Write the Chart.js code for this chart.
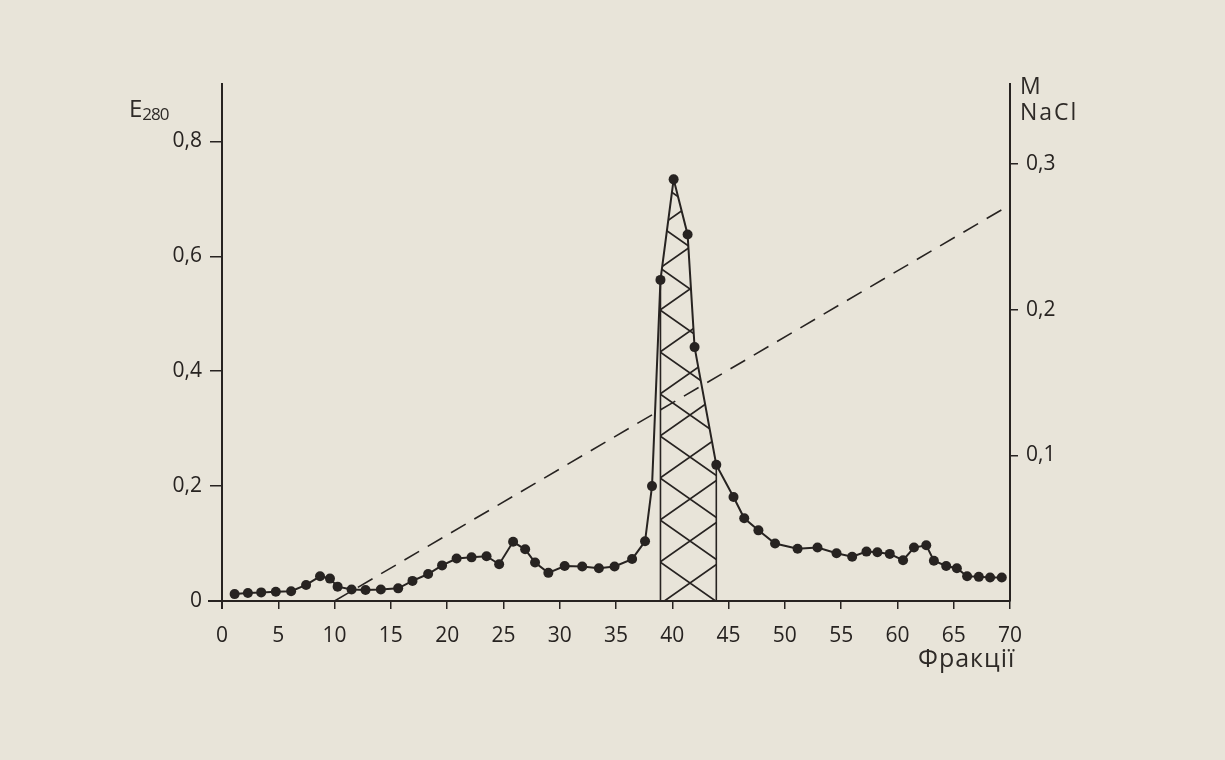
<!DOCTYPE html>
<html>
<head>
<meta charset="utf-8">
<script src="https://cdn.jsdelivr.net/npm/chart.js@4/dist/chart.umd.min.js"></script>
<style>
  html, body { margin: 0; padding: 0; background: #e8e4d9; }
  #wrap { position: relative; width: 1225px; height: 760px; background: #e8e4d9; overflow: hidden; }
  canvas { position: absolute; left: 0; top: 0; }
  .lbl { position: absolute; font-family: "Open Sans", "DejaVu Sans", sans-serif; color: #2e2a27; white-space: nowrap; line-height: 1; }
  .lbl sub { font-size: 17px; vertical-align: -3px; letter-spacing: -1px; }
</style>
</head>
<body>
<div id="wrap">
  <canvas id="c" width="1225" height="760"></canvas>
  <div class="lbl" style="left:129px;top:96px;font-size:24px;">E<sub>280</sub></div>
  <div class="lbl" style="left:1020px;top:72px;font-size:23px;line-height:26px;letter-spacing:2px;">M<br>NaCl</div>
  <div class="lbl" style="left:918px;top:645px;font-size:25px;letter-spacing:1px;">Фракції</div>
</div>
<script>
// ---- data ----
const fractions = [1.12, 2.30, 3.48, 4.78, 6.14, 7.47, 8.71, 9.59, 10.27, 11.51, 12.75, 14.11, 15.65, 16.92, 18.31, 19.55, 20.84, 22.17, 23.50, 24.62, 25.86, 26.93, 27.81, 28.99, 30.44, 32.00, 33.48, 34.87, 36.43, 37.58, 38.20, 38.95, 40.12, 41.36, 41.98, 43.91, 45.44, 46.39, 47.65, 49.13, 51.13, 52.90, 54.59, 55.98, 57.25, 58.22, 59.32, 60.50, 61.47, 62.56, 63.24, 64.33, 65.28, 66.19, 67.23, 68.23, 69.27];
const e280 = [0.012, 0.014, 0.015, 0.016, 0.017, 0.028, 0.043, 0.039, 0.025, 0.020, 0.019, 0.020, 0.022, 0.035, 0.047, 0.062, 0.074, 0.076, 0.078, 0.064, 0.103, 0.090, 0.067, 0.049, 0.061, 0.060, 0.057, 0.060, 0.073, 0.104, 0.200, 0.559, 0.734, 0.638, 0.442, 0.237, 0.181, 0.144, 0.123, 0.100, 0.091, 0.093, 0.083, 0.077, 0.086, 0.085, 0.082, 0.071, 0.093, 0.097, 0.070, 0.061, 0.057, 0.043, 0.042, 0.041, 0.041];
const gradientFractions = [10, 70];
const gradientNaCl = [0, 0.272];
const hatchFrom = 38.95;   // pooled fractions (hatched)
const hatchTo = 43.91;
const xTicks = [0, 5, 10, 15, 20, 25, 30, 35, 40, 45, 50, 55, 60, 65, 70];
const e280Ticks = [0, 0.2, 0.4, 0.6, 0.8];
const naclTicks = [0.1, 0.2, 0.3];

// ---- build ----
const INK = '#272321';
const mainPts = fractions.map((f, i) => ({ x: f, y: e280[i] }));
const hatchPts = mainPts.filter(p => p.x >= hatchFrom && p.x <= hatchTo);
const edgeL = hatchPts[0], edgeR = hatchPts[hatchPts.length - 1];
const gradPts = gradientFractions.map((f, i) => ({ x: f, y: gradientNaCl[i] }));

function makeHatch() {
  const t = document.createElement('canvas');
  t.width = 60; t.height = 42;
  const g = t.getContext('2d');
  g.strokeStyle = INK; g.lineWidth = 1.8;
  g.beginPath();
  g.moveTo(0, 0); g.lineTo(60, 42);
  g.moveTo(0, 42); g.lineTo(60, 0);
  g.stroke();
  const ctx = document.getElementById('c').getContext('2d');
  const p = ctx.createPattern(t, 'repeat');
  if (p.setTransform) p.setTransform(new DOMMatrix().translate(0, 16));
  return p;
}
const hatch = makeHatch();

// small extension of the hand-drawn axes beyond their crossing
const axisStubs = {
  id: 'axisStubs',
  afterDraw(chart) {
    const { ctx, chartArea: a } = chart;
    ctx.save();
    ctx.strokeStyle = INK; ctx.lineWidth = 2;
    ctx.beginPath();
    ctx.moveTo(a.left - 14, a.bottom); ctx.lineTo(a.left, a.bottom);
    ctx.moveTo(a.left, a.bottom); ctx.lineTo(a.left, a.bottom + 8);
    ctx.stroke();
    ctx.restore();
  }
};

const fmt = v => v === 0 ? '0' : v.toFixed(1).replace('.', ',');
const tickFont = { family: '"Open Sans", "DejaVu Sans", sans-serif', size: 21 };

new Chart(document.getElementById('c'), {
  type: 'line',
  data: {
    datasets: [
      { data: mainPts, yAxisID: 'y', borderColor: INK, borderWidth: 2, pointRadius: 5, pointBackgroundColor: INK, pointBorderColor: INK, pointBorderWidth: 0, tension: 0, order: 0, fill: false },
      { data: hatchPts, yAxisID: 'y', borderWidth: 0, pointRadius: 0, backgroundColor: hatch, fill: 'origin', order: 3 },
      { data: [{ x: edgeL.x, y: 0 }, { x: edgeL.x, y: edgeL.y }], yAxisID: 'y', borderColor: INK, borderWidth: 1.6, pointRadius: 0, fill: false, order: 1 },
      { data: [{ x: edgeR.x, y: 0 }, { x: edgeR.x, y: edgeR.y }], yAxisID: 'y', borderColor: INK, borderWidth: 1.6, pointRadius: 0, fill: false, order: 1 },
      { data: gradPts, yAxisID: 'y2', borderColor: INK, borderWidth: 1.6, borderDash: [17, 10], pointRadius: 0, fill: false, order: 2 }
    ]
  },
  plugins: [axisStubs],
  options: {
    responsive: false,
    devicePixelRatio: 1,
    animation: false,
    layout: { padding: { top: 84, left: 0, right: 0, bottom: 0 } },
    plugins: { legend: { display: false }, tooltip: { enabled: false } },
    scales: {
      x: {
        type: 'linear', min: 0, max: 70, position: 'bottom',
        afterFit: s => { s.height = 159; },
        afterBuildTicks: s => { s.ticks = xTicks.map(v => ({ value: v })); },
        ticks: { color: INK, font: tickFont, padding: 14, maxRotation: 0, autoSkip: false, callback: v => String(v) },
        grid: { drawOnChartArea: false, drawTicks: true, tickLength: 8, color: INK, lineWidth: 1.5 },
        border: { display: true, color: INK, width: 2 }
      },
      y: {
        type: 'linear', min: 0, max: 0.9, position: 'left',
        afterFit: s => { s.width = 222; },
        afterBuildTicks: s => { s.ticks = e280Ticks.map(v => ({ value: v })); },
        ticks: { color: INK, font: tickFont, padding: 8, callback: v => fmt(v) },
        grid: { drawOnChartArea: false, drawTicks: true, tickLength: 12, color: INK, lineWidth: 1.5 },
        border: { display: true, color: INK, width: 2 }
      },
      y2: {
        type: 'linear', min: 0, max: 0.355, position: 'right',
        afterFit: s => { s.width = 215; },
        afterBuildTicks: s => { s.ticks = naclTicks.map(v => ({ value: v })); },
        ticks: { color: INK, font: tickFont, padding: 8, callback: v => fmt(v) },
        grid: { drawOnChartArea: false, drawTicks: true, tickLength: 8, color: INK, lineWidth: 1.5 },
        border: { display: true, color: INK, width: 2 }
      }
    }
  }
});
</script>
</body>
</html>
